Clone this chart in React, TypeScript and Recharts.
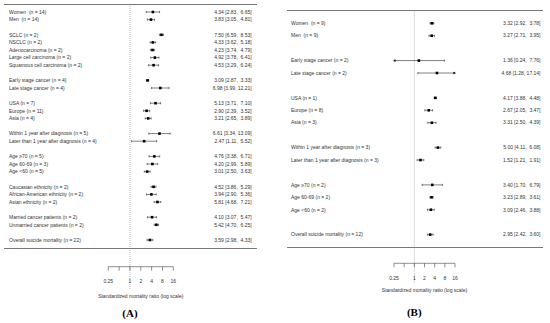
import React from "react";
import { ScatterChart, Scatter, XAxis, YAxis, ErrorBar, ReferenceLine } from "recharts";

// ---- panel A: all cancer patients ----
const labelsA = [
  "Women  (n = 14)",
  "Men  (n = 14)",
  "SCLC (n = 2)",
  "NSCLC (n = 2)",
  "Adenocarcinoma (n = 2)",
  "Large cell carcinoma (n = 2)",
  "Squamous cell carcinoma (n = 2)",
  "Early stage cancer (n = 4)",
  "Late stage cancer (n = 4)",
  "USA (n = 7)",
  "Europe (n = 11)",
  "Asia (n = 4)",
  "Within 1 year after diagnosis (n = 5)",
  "Later than 1 year after diagnosis (n = 4)",
  "Age \u226570 (n = 5)",
  "Age 60-69 (n = 3)",
  "Age <60 (n = 5)",
  "Caucasian ethnicity (n = 2)",
  "African-American ethnicity (n = 2)",
  "Asian ethnicity (n = 2)",
  "Married cancer patients (n = 2)",
  "Unmarried cancer patients (n = 2)",
  "Overall suicide mortality (n = 22)",
];
const smrA = [4.34, 3.83, 7.5, 4.33, 4.23, 4.92, 4.53, 3.09, 6.98, 5.13, 2.9, 3.21, 6.61, 2.47, 4.76, 4.2, 3.01, 4.52, 3.94, 5.81, 4.1, 5.42, 3.59];
const lowA = [2.83, 3.05, 6.59, 3.62, 3.74, 3.78, 3.29, 2.87, 3.99, 3.71, 2.39, 2.65, 3.34, 1.11, 3.38, 2.99, 2.5, 3.86, 2.9, 4.68, 3.07, 4.7, 2.98];
const highA = [6.65, 4.81, 8.53, 5.18, 4.79, 6.41, 6.24, 3.33, 12.21, 7.1, 3.52, 3.89, 13.09, 5.52, 6.71, 5.89, 3.63, 5.29, 5.36, 7.21, 5.47, 6.25, 4.33];
const groupsA = [2, 5, 2, 3, 2, 3, 3, 2, 1];

// ---- panel B ----
const labelsB = [
  "Women  (n = 9)",
  "Men  (n = 9)",
  "Early stage cancer (n = 2)",
  "Late stage cancer (n = 2)",
  "USA (n = 1)",
  "Europe (n = 8)",
  "Asia (n = 3)",
  "Within 1 year after diagnosis (n = 3)",
  "Later than 1 year after diagnosis (n = 3)",
  "Age \u226570 (n = 2)",
  "Age 60-69 (n = 2)",
  "Age <60 (n = 2)",
  "Overall suicide mortality (n = 12)",
];
const smrB = [3.32, 3.27, 1.36, 4.68, 4.17, 2.67, 3.31, 5.0, 1.52, 3.4, 3.23, 3.09, 2.95];
const lowB = [2.92, 2.71, 0.24, 1.28, 3.88, 2.05, 2.5, 4.11, 1.21, 1.7, 2.89, 2.46, 2.42];
const highB = [3.78, 3.95, 7.76, 17.14, 4.48, 3.47, 4.39, 6.08, 1.91, 6.79, 3.61, 3.88, 3.6];
const groupsB = [2, 2, 3, 2, 3, 1];

const xTicks = [0.25, 0.5, 1, 2, 4, 8, 16];
const xLabels = ["0.25", "", "1", "2", "4", "8", "16"];
const X_MIN = 0.25;
const X_MAX = 16;

const FONT = "'Liberation Sans', Arial, sans-serif";
const TEXT = "#333";

type Row = {
  label: string;
  smr: number;
  low: number;
  high: number;
  row: number;
  err: [number, number];
  text: string;
};

function rowIndexes(groups: number[]) {
  const out: number[] = [];
  let r = 0;
  groups.forEach((n) => {
    for (let i = 0; i < n; i++) out.push(r++);
    r++; // blank line between groups
  });
  return out;
}

const f2 = (v: number) => v.toFixed(2);

function buildRows(labels: string[], smr: number[], low: number[], high: number[], groups: number[]): Row[] {
  const rows = rowIndexes(groups);
  return labels.map((label, i) => {
    const lo = Math.max(low[i], X_MIN);
    const hi = Math.min(high[i], X_MAX);
    return {
      label,
      smr: smr[i],
      low: low[i],
      high: high[i],
      row: rows[i],
      err: [smr[i] - lo, hi - smr[i]],
      text: `${f2(smr[i])} [${f2(low[i])}, ${f2(high[i]).padStart(5, " ")}]`,
    };
  });
}

function arrowsFor(rows: Row[]) {
  const out: { smr: number; row: number; dir: number }[] = [];
  rows.forEach((d) => {
    if (d.low < X_MIN) out.push({ smr: X_MIN, row: d.row, dir: -1 });
    if (d.high > X_MAX) out.push({ smr: X_MAX, row: d.row, dir: 1 });
  });
  return out;
}

const rowsA = buildRows(labelsA, smrA, lowA, highA, groupsA);
const rowsB = buildRows(labelsB, smrB, lowB, highB, groupsB);

type Cfg = {
  left: number;
  tag: string;
  tagX: number;
  rowY0: number;
  rowStep: number;
  top: number;
  axisY: number;
  titleBottom: number;
  plotLeft: number;
  plotRight: number;
  labelX: number;
  valueX: number;
  lineLeft: number;
  lineRight: number;
  bottomLineY: number;
  refBottom: number;
  tagY: number;
};

const panelA: Cfg = {
  left: 0, tag: "(A)", tagX: 130, rowY0: 12, rowStep: 7.6, top: 4, axisY: 266.7, titleBottom: 298,
  plotLeft: 108.3, plotRight: 173.3, labelX: 9, valueX: 251.7, lineLeft: 4, lineRight: 256.5,
  bottomLineY: 248.7, refBottom: 289, tagY: 312.7,
};
const panelB: Cfg = {
  left: 275, tag: "(B)", tagX: 139.3, rowY0: 23.3, rowStep: 12.43, top: 10.7, axisY: 263.3, titleBottom: 292.3,
  plotLeft: 119, plotRight: 180, labelX: 16, valueX: 265.5, lineLeft: 12, lineRight: 268,
  bottomLineY: 247.7, refBottom: 283, tagY: 311.7,
};

const W = 275;
const H = 300;

function ForestPanel({ cfg, data }: { cfg: Cfg; data: Row[] }) {
  const yTop = (cfg.top - cfg.rowY0) / cfg.rowStep;
  const yBottom = (cfg.axisY - cfg.rowY0) / cfg.rowStep;
  const refEnd = (cfg.refBottom - cfg.rowY0) / cfg.rowStep;
  const arrows = arrowsFor(data);

  const RowTick = (props: any) => {
    const d = data.find((r) => r.row === props.payload.value);
    if (!d) return null;
    return (
      <g fontFamily={FONT} fontSize={5} fill={TEXT}>
        <text x={cfg.labelX} y={props.y} dy="0.35em" style={{ whiteSpace: "pre" }}>
          {d.label}
        </text>
        <text x={cfg.valueX} y={props.y} dy="0.35em" textAnchor="end" style={{ whiteSpace: "pre" }}>
          {d.text}
        </text>
      </g>
    );
  };

  const hLine = (y: number) => (
    <div
      style={{
        position: "absolute",
        left: cfg.lineLeft,
        top: y - 0.4,
        width: cfg.lineRight - cfg.lineLeft,
        height: 0.8,
        background: "#777",
      }}
    />
  );

  return (
    <div style={{ position: "absolute", left: cfg.left, top: 0, width: W, height: 323 }}>
      <ScatterChart
        width={W}
        height={H}
        margin={{ top: cfg.top, right: W - cfg.plotRight, bottom: H - cfg.titleBottom, left: 0 }}
      >
        <XAxis
          type="number"
          dataKey="smr"
          scale="log"
          domain={[X_MIN, X_MAX]}
          allowDataOverflow
          ticks={xTicks}
          interval={0}
          tickFormatter={(v: number) => xLabels[xTicks.indexOf(v)] ?? ""}
          tick={{ fontSize: 5, fill: TEXT, fontFamily: FONT }}
          tickSize={4}
          tickMargin={9}
          stroke="#444"
          strokeWidth={0.6}
          height={cfg.titleBottom - cfg.axisY}
          label={{
            value: "Standardized mortality ratio (log scale)",
            position: "insideBottom",
            offset: 0,
            fontSize: 5,
            fill: TEXT,
            fontFamily: FONT,
          }}
        />
        <YAxis
          type="number"
          dataKey="row"
          reversed
          domain={[yTop, yBottom]}
          allowDataOverflow
          ticks={data.map((d) => d.row)}
          interval={0}
          width={cfg.plotLeft}
          axisLine={false}
          tickLine={false}
          tick={<RowTick />}
        />
        <ReferenceLine
          segment={[
            { x: 1, y: yTop },
            { x: 1, y: refEnd },
          ]}
          ifOverflow="visible"
          stroke="#888"
          strokeWidth={0.6}
          strokeDasharray="1 1"
        />
        <Scatter
          data={data}
          isAnimationActive={false}
          shape={(p: any) => (
            <rect x={p.cx - 1.3} y={p.cy - 1.3} width={2.6} height={2.6} fill="#000" />
          )}
        >
          <ErrorBar dataKey="err" direction="x" width={1.1} stroke="#000" strokeWidth={0.5} />
        </Scatter>
        <Scatter
          data={arrows}
          isAnimationActive={false}
          shape={(p: any) => {
            const dir = p.payload.dir;
            const tip = p.cx + dir * 1.2;
            const base = p.cx - dir * 1.6;
            return <polygon points={`${tip},${p.cy} ${base},${p.cy - 1.2} ${base},${p.cy + 1.2}`} fill="#000" />;
          }}
        />
      </ScatterChart>
      {hLine(cfg.top)}
      {hLine(cfg.bottomLineY)}
      <div
        style={{
          position: "absolute",
          left: cfg.tagX - 30,
          width: 60,
          top: cfg.tagY - 7,
          textAlign: "center",
          fontFamily: "'Liberation Serif', 'Times New Roman', serif",
          fontWeight: "bold",
          fontSize: 11,
          lineHeight: "14px",
          color: "#000",
        }}
      >
        {cfg.tag}
      </div>
    </div>
  );
}

export default function App() {
  return (
    <div style={{ position: "absolute", left: 0, top: 0, width: 550, height: 323, background: "#fff", overflow: "hidden" }}>
      <ForestPanel cfg={panelA} data={rowsA} />
      <ForestPanel cfg={panelB} data={rowsB} />
    </div>
  );
}
